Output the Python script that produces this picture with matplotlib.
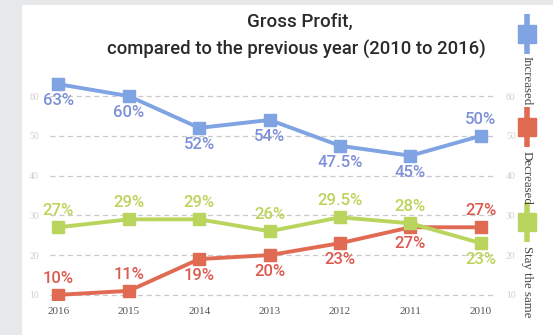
import matplotlib.pyplot as plt
from matplotlib.lines import Line2D
from matplotlib.patches import Rectangle

years = ['2016', '2015', '2014', '2013', '2012', '2011', '2010']
increased = [63, 60, 52, 54, 47.5, 45, 50]
decreased = [10, 11, 19, 20, 23, 27, 27]
same = [27, 29, 29, 26, 29.5, 28, 23]
inc_labels = ['63%', '60%', '52%', '54%', '47.5%', '45%', '50%']
dec_labels = ['10%', '11%', '19%', '20%', '23%', '27%', '27%']
same_labels = ['27%', '29%', '29%', '26%', '29.5%', '28%', '23%']
grid_levels = [10, 20, 30, 40, 50, 60]

# label placement: +1 above the point, -1 below
inc_side = [-1, -1, -1, -1, -1, -1, 1]
dec_side = [1, 1, -1, -1, -1, -1, 1]
same_side = [1, 1, 1, 1, 1, 1, -1]

c_inc, c_inc_txt = '#7fa3e3', '#7d90d8'
c_dec, c_dec_txt = '#e06a52', '#dd5a50'
c_same, c_same_txt = '#b9d55e', '#bcd45a'

label_font = ['Roboto', 'DejaVu Sans']

fig = plt.figure(figsize=(5.53, 3.35), dpi=100)
fig.patch.set_facecolor('white')
# grey page margins on the left and top
fig.add_artist(Rectangle((0, 0), 22 / 553, 1, transform=fig.transFigure,
                         color='#e7e8ea', lw=0, zorder=0))
fig.add_artist(Rectangle((0, 1 - 5 / 335), 1, 5 / 335, transform=fig.transFigure,
                         color='#e7e8ea', lw=0, zorder=0))

ax = fig.add_axes([0.0904, 0.1045, 0.8046, 0.6715])
x = list(range(len(years)))

for lvl in grid_levels:
    ax.axhline(lvl, color='#c9c9c9', lw=0.9, ls=(0, (4, 3)), zorder=1)

series = [
    (increased, inc_labels, inc_side, c_inc, c_inc_txt),
    (decreased, dec_labels, dec_side, c_dec, c_dec_txt),
    (same, same_labels, same_side, c_same, c_same_txt),
]
for vals, labs, side, col, tcol in series:
    ax.plot(x, vals, color=col, lw=2.8, marker='s', markersize=8.5, zorder=3)
    for xi, v, lab, s in zip(x, vals, labs, side):
        ax.annotate(lab, (xi, v), xytext=(0, 6.5 * s), textcoords='offset points',
                    ha='center', va='bottom' if s > 0 else 'top',
                    color=tcol, fontsize=12, fontweight='medium',
                    family=label_font, zorder=4)

ax.set_xlim(-0.12, 6.2)
ax.set_ylim(8.7, 65.3)
ax.set_xticks(x)
ax.set_xticklabels(years, family=['Liberation Serif'], fontsize=8, color='#555555')
ax.set_yticks(grid_levels)
ax.set_yticklabels([str(v) for v in grid_levels], family=['Liberation Serif'],
                   fontsize=7, color='#cfcfcf')
ax.tick_params(length=0)
ax.tick_params(axis='x', pad=5)
ax.tick_params(axis='y', pad=8, labelright=True)
for sp in ax.spines.values():
    sp.set_visible(False)
ax.set_facecolor('none')

title_font = ['Roboto', 'DejaVu Sans']
fig.text(0.542, 0.934, 'Gross Profit,', ha='center', va='center',
         fontsize=13.5, fontweight='medium', color='#2a2a2a', family=title_font)
fig.text(0.536, 0.851, 'compared to the previous year (2010 to 2016)',
         ha='center', va='center', fontsize=13.3, fontweight='medium',
         color='#2a2a2a', family=title_font)

# vertical legend on the right edge
legend_items = [('Increased', c_inc, 34, 56), ('Decreased', c_dec, 127, 151),
                ('Stay the same', c_same, 222, 246)]
lx = 527 / 553
for name, col, yc, ytxt in legend_items:
    yf = 1 - yc / 335
    fig.add_artist(Line2D([lx, lx], [yf - 20 / 335, yf + 20 / 335],
                          transform=fig.transFigure, color=col, lw=4.0,
                          solid_capstyle='butt'))
    fig.add_artist(Line2D([lx], [yf], transform=fig.transFigure, color=col,
                          marker='s', markersize=13, lw=0))
    fig.text(lx, 1 - ytxt / 335, name, rotation=-90, ha='center', va='top',
             fontsize=9.3, color='#444444', family=['Liberation Serif'])

fig.savefig('out.png', dpi=100)
